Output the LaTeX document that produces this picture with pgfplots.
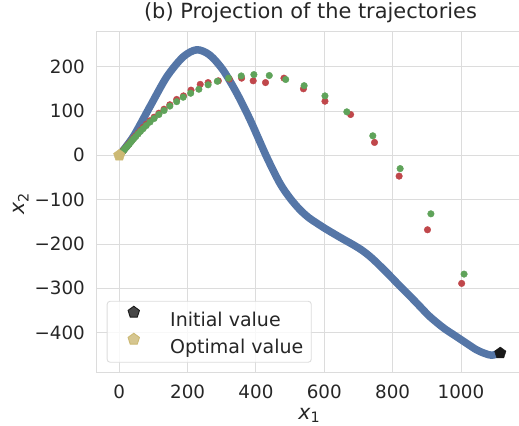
\documentclass[border=0pt]{standalone}
\usepackage{pgfplots}
\pgfplotsset{compat=1.18}
\usepackage{fontspec}
\setmainfont{DejaVu Sans}
\definecolor{sbblue}{HTML}{5576A7}
\definecolor{sbred}{HTML}{C0474B}
\definecolor{sbgreen}{HTML}{5FA35A}
\definecolor{sbtan}{HTML}{CCB974}
\definecolor{gridc}{HTML}{DCDCDC}
\definecolor{txt}{HTML}{262626}
\begin{document}
\begin{tikzpicture}
\useasboundingbox (-96.7bp,-53.3bp) rectangle (422.3bp,372.7bp);
\begin{axis}[
  at={(0,0)}, anchor=south west,
  scale only axis, width=427.6bp, height=341bp,
  xmin=-66, xmax=1185.3, ymin=-490.4, ymax=278.8,
  xtick={0,200,400,600,800,1000},
  ytick={-400,-300,-200,-100,0,100,200},
  yticklabels={−400,−300,−200,−100,0,100,200},
  xticklabels={0,200,400,600,800,1000},
  major tick length=0pt,
  grid=major,
  major grid style={gridc, line width=0.9bp},
  axis line style={gridc, line width=1bp},
  tick label style={font=\fontsize{18.3bp}{22bp}\selectfont, text=txt},
  yticklabel style={inner sep=0pt, xshift=-11.7bp},
  xticklabel style={inner sep=0pt, yshift=-12.3bp},
  title={(b) Projection of the trajectories},
  title style={at={(0.5,1.0226)}, anchor=base, inner sep=0pt, font=\fontsize{20.9bp}{25bp}\selectfont, text=txt},
  xlabel={\textit{x}\textsubscript{1}},
  ylabel={\textit{x}\textsubscript{2}},
  xlabel style={at={(0.497,-0.1375)}, anchor=base, inner sep=0pt, font=\fontsize{20.5bp}{24bp}\selectfont, text=txt},
  ylabel style={at={(-0.1677,0.495)}, rotate=0, anchor=base, inner sep=0pt, font=\fontsize{20.5bp}{24bp}\selectfont, text=txt},
  legend cell align=left,
  legend style={at={(0.0234,0.0293)}, anchor=south west,
    draw=gridc, line width=0.9bp, rounded corners=3bp,
    fill=white, fill opacity=0.8, text opacity=1,
    inner xsep=8bp, inner ysep=5bp,
    font=\fontsize{19bp}{23bp}\selectfont, text=txt,
    row sep=3bp,
    nodes={inner sep=0pt, text height=18.6bp, text depth=3.4bp},
    /tikz/every odd column/.append style={column sep=30.7bp}},
  legend image code/.code={\path[draw=none,fill=none] (0bp,7bp) -- (0.1bp,7bp); \draw[#1] plot coordinates {(18.6bp,7bp)};},
]
% blue trajectory
\addplot[sbblue, line width=7.5bp, smooth, tension=0.5, line cap=round, line join=round, forget plot] coordinates {
(1115,-446) (1090,-451) (1070,-447) (1046,-439) (1020,-426) (987,-409) (950,-390)
(909,-364) (880,-341) (850,-317) (820,-294) (790,-270) (760,-247) (735,-229)
(710,-214) (685,-202) (655,-189) (626,-176) (600,-164) (578,-153) (555,-141)
(529,-123) (500,-97) (470,-63) (431,-3)
(383,80) (344,140) (304,192) (265,226) (227,238) (187,222) (139,177)
(90,110) (41,42) (0,0)
};
% red iterates
\addplot[only marks, mark=*, mark size=3.3bp, color=sbred, forget plot] coordinates {
(1002,-289) (902,-168) (819,-47) (747,29) (677,92) (602,122) (539,150) (482,174)
(428,164) (392,168) (358,174) (322,172) (290,168) (260,164) (237,160) (210,147)
(188,134) (168,126) (148,114) (131,104) (116,95) (102,86) (90,78) (79,70) (70,63)
(62,56) (55,50) (48,44) (42,39) (37,34) (33,30) (29,26) (25,23) (22,20) (19,17.5)
(17,15.5) (15,13.5) (13,11.5) (11,10) (9.5,8.5) (8,7.5) (7,6.5) (6,5.5) (5,4.5)
(4,3.5) (3,2.8) (2,2) (1,1)
};
% green iterates
\addplot[only marks, mark=*, mark size=3.3bp, color=sbgreen, forget plot] coordinates {
(1009,-268) (912,-132) (822,-30) (742,44) (666,98) (602,134) (541,157) (487,171)
(439,180) (394,182) (357,179) (320,174) (287,167) (260,159) (233,149) (209,140)
(187,131) (168,121) (148,111) (131,101) (116,92) (102,83) (90,75) (79,67) (70,60)
(62,54) (55,48) (48,42) (42,37) (37,33) (33,29) (29,25) (25,22) (22,19) (19,17)
(17,15) (15,13) (13,11) (11,9.5) (9.5,8) (8,7) (7,6) (6,5) (5,4) (4,3.5) (3,2.5)
(2,2) (1,1)
};
\addplot[only marks, mark=pentagon*, mark size=6bp, color=black!90] coordinates {(1115,-446)};
\addlegendentry{Initial value}
\addplot[only marks, mark=pentagon*, mark size=6bp, color=sbtan] coordinates {(0,0)};
\addlegendentry{Optimal value}
\end{axis}
\end{tikzpicture}
\end{document}
